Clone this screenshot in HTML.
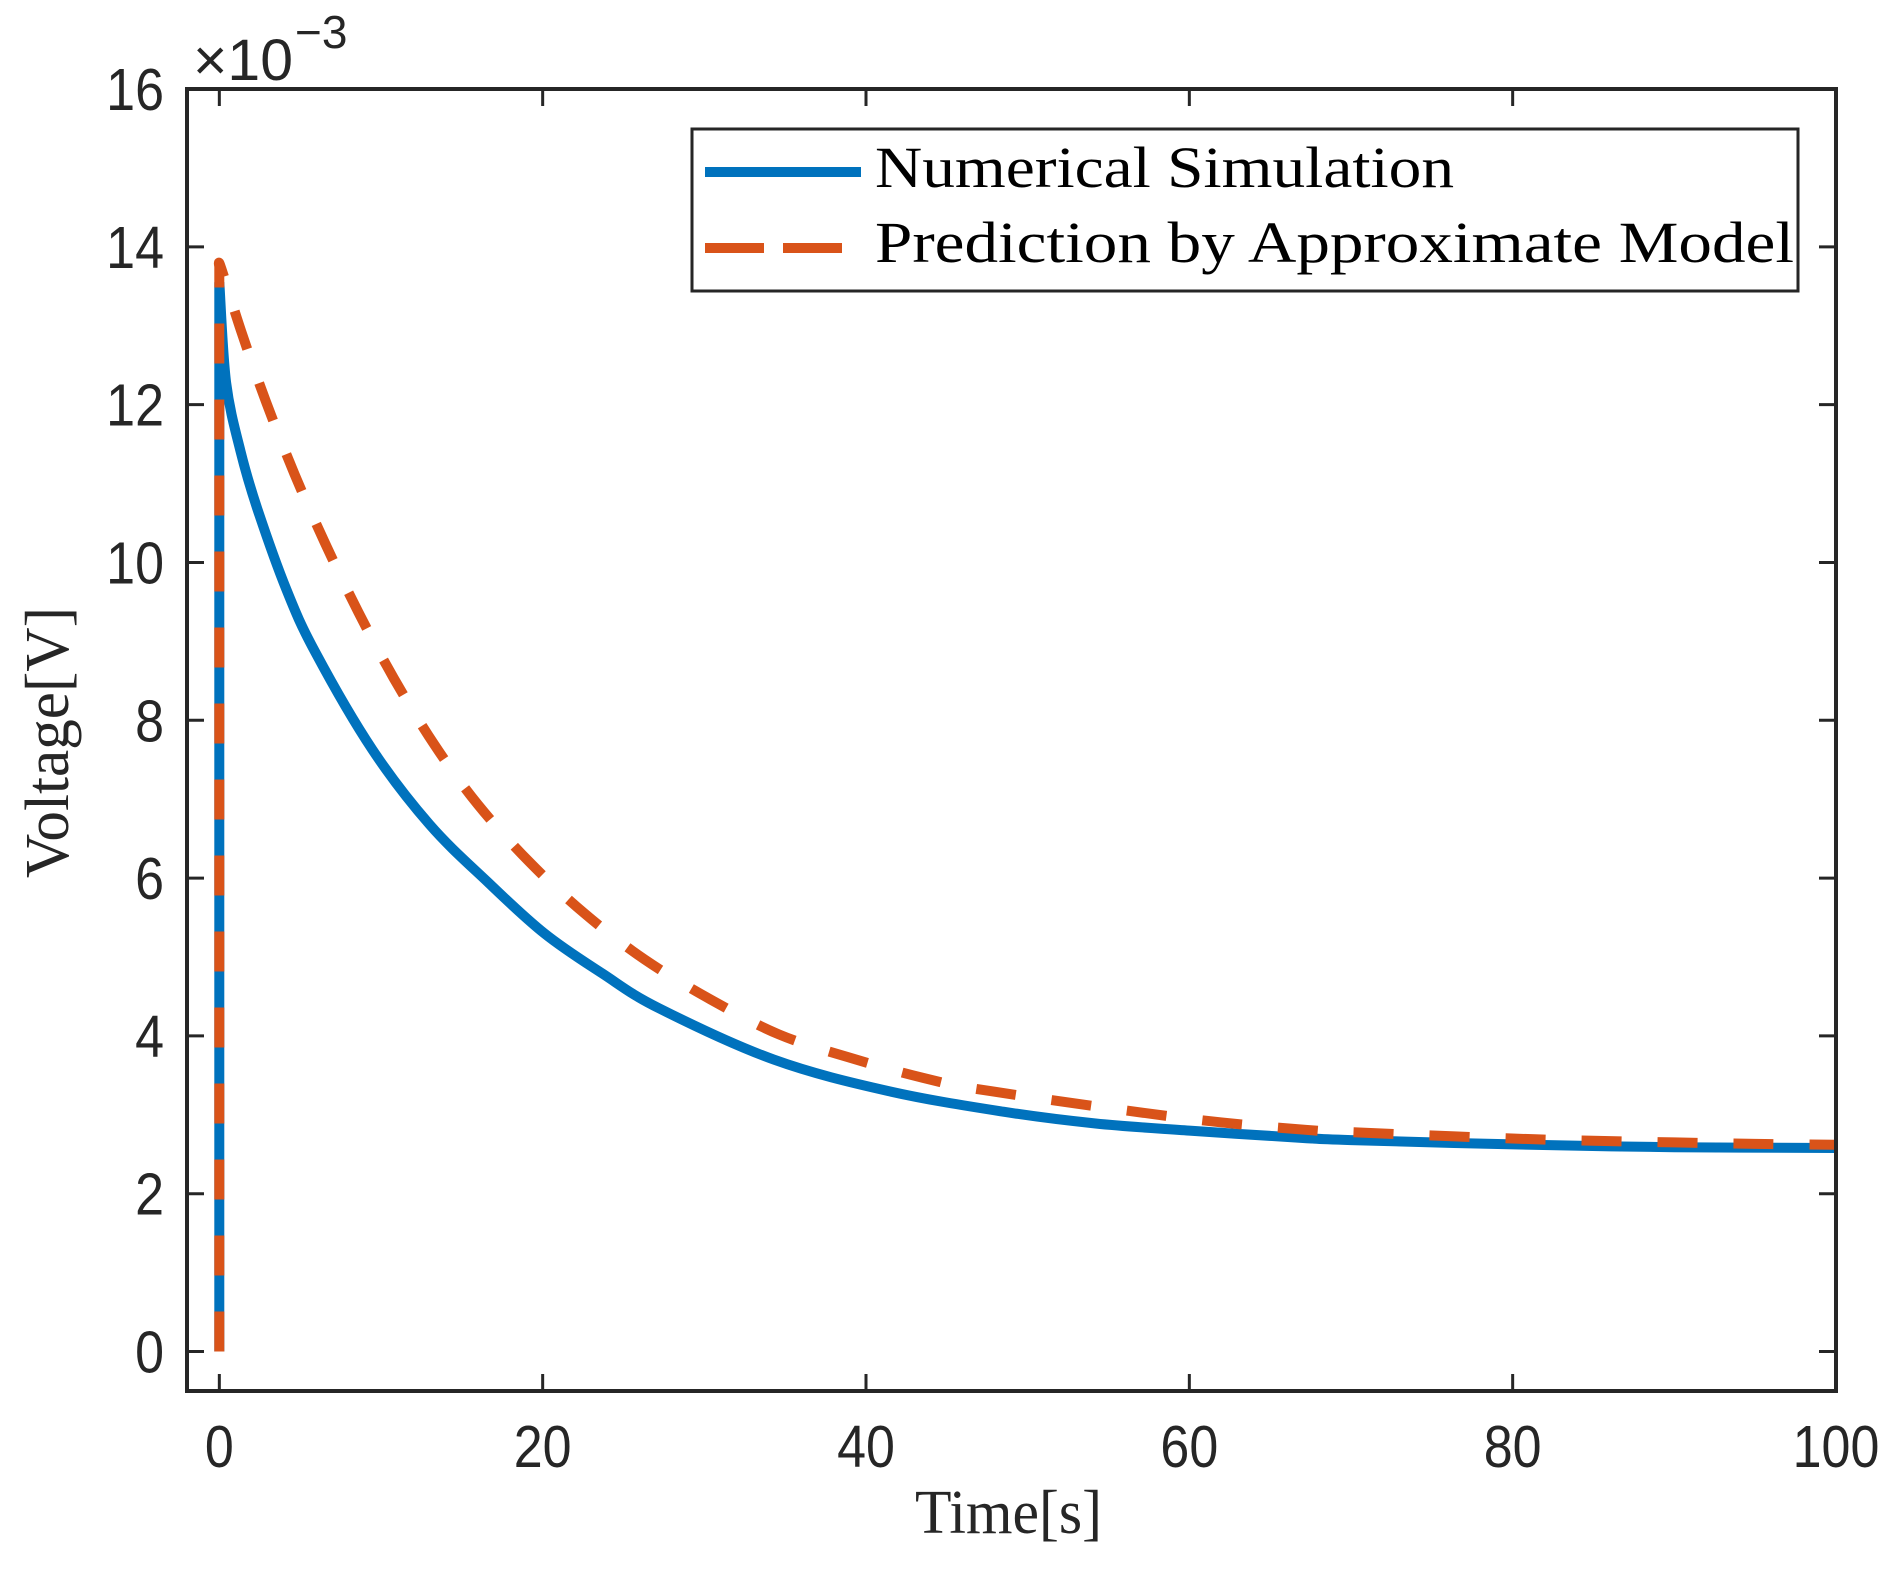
<!DOCTYPE html>
<html>
<head>
<meta charset="utf-8">
<style>
html,body{margin:0;padding:0;background:#fff;}
svg{display:block;}
</style>
</head>
<body>
<svg id="chart" width="1901" height="1574" viewBox="0 0 1901 1574" xmlns="http://www.w3.org/2000/svg">
  <rect x="0" y="0" width="1901" height="1574" fill="#fff"/>
  <rect x="187" y="89" width="1649" height="1302" fill="#fff"/>
  <g id="ticks"></g>
  <g id="series"></g>
  <rect x="187" y="89" width="1649" height="1302" fill="none" stroke="#262626" stroke-width="4"/>
  <g id="xlabels" font-family="Liberation Sans, sans-serif" font-size="52" fill="#262626"></g>
  <g id="ylabels" font-family="Liberation Sans, sans-serif" font-size="52" fill="#262626"></g>
  <g fill="#262626" font-family="Liberation Sans, sans-serif">
    <text x="193" y="80" font-size="58" textLength="100" lengthAdjust="spacingAndGlyphs">×10</text>
    <text x="295" y="48" font-size="46">−3</text>
  </g>
  <text x="915" y="1533" font-family="Liberation Serif, serif" font-size="62" fill="#262626" textLength="187" lengthAdjust="spacingAndGlyphs">Time[s]</text>
  <text transform="translate(68,878) rotate(-90)" x="0" y="0" font-family="Liberation Serif, serif" font-size="62" fill="#262626" textLength="271" lengthAdjust="spacingAndGlyphs">Voltage[V]</text>
  <g>
    <rect x="692" y="129" width="1106" height="162" fill="#fff" stroke="#262626" stroke-width="3"/>
    <g>
      <line x1="705" y1="172" x2="861" y2="172" stroke="#0072BD" stroke-width="10"/>
      <text x="875" y="187" font-family="Liberation Serif, serif" font-size="58" fill="#000" textLength="579" lengthAdjust="spacingAndGlyphs">Numerical Simulation</text>
    </g>
    <g>
      <line x1="705" y1="248" x2="861" y2="248" stroke="#D95319" stroke-width="10" stroke-dasharray="59 19"/>
      <text x="875" y="262" font-family="Liberation Serif, serif" font-size="58" fill="#000" textLength="919" lengthAdjust="spacingAndGlyphs">Prediction by Approximate Model</text>
    </g>
  </g>
</svg>
<script>
// ---- data (voltage in units of 1e-3 V) ----
const simTime  = [0, 0, 0.42, 1.31, 2.35, 4.14, 5.94, 9.46, 13.0, 16.6, 20.1, 23.7, 27.2, 34.3, 41.4, 48.5, 54.2, 60, 66.8, 70, 81.1, 90, 100];
const simVolt  = [0, 13.55, 12.28, 11.41, 10.68, 9.66, 8.86, 7.63, 6.68, 5.95, 5.30, 4.79, 4.35, 3.70, 3.30, 3.04, 2.89, 2.80, 2.71, 2.68, 2.62, 2.59, 2.58];
const predTime = [0, 0, 0.1, 1.35, 2.9, 4.65, 6.55, 8.6, 10.8, 13.3, 16.0, 19.2, 22.6, 26.3, 30.4, 34.6, 38.9, 43.5, 47.7, 60, 67.2, 70, 81.4, 90, 95.6, 100];
const predVolt = [0, 13.74, 13.74, 12.93, 12.03, 11.12, 10.24, 9.37, 8.53, 7.69, 6.93, 6.20, 5.55, 4.97, 4.46, 4.02, 3.73, 3.47, 3.30, 2.95, 2.81, 2.78, 2.69, 2.65, 2.63, 2.62];
const xTicks = [0, 20, 40, 60, 80, 100];
const yTicks = [0, 2, 4, 6, 8, 10, 12, 14, 16];

// ---- axes ----
const X0 = 187, X1 = 1836, Y0 = 1391, Y1 = 89;
const xMin = -2, xMax = 100, yMin = -0.5, yMax = 16;
function xs(t){ return X0 + (t - xMin) / (xMax - xMin) * (X1 - X0); }
function ys(v){ return Y0 - (v - yMin) / (yMax - yMin) * (Y0 - Y1); }
const NS = 'http://www.w3.org/2000/svg';

function pathFrom(ts, vs){
  const p = ts.map((t,i)=>[xs(t), ys(vs[i])]);
  let d = 'M' + p[0][0].toFixed(1) + ',' + p[0][1].toFixed(1);
  d += ' L' + p[1][0].toFixed(1) + ',' + p[1][1].toFixed(1);
  for (let i = 1; i < p.length - 1; i++){
    const a = p[Math.max(i-1,1)], b = p[i], c = p[i+1], e = p[Math.min(i+2, p.length-1)];
    const c1x = b[0] + (c[0]-a[0])/6, c1y = b[1] + (c[1]-a[1])/6;
    const c2x = c[0] - (e[0]-b[0])/6, c2y = c[1] - (e[1]-b[1])/6;
    d += ' C' + c1x.toFixed(1)+','+c1y.toFixed(1)+' '+c2x.toFixed(1)+','+c2y.toFixed(1)+' '+c[0].toFixed(1)+','+c[1].toFixed(1);
  }
  return d;
}

const tickG = document.getElementById('ticks');
const xl = document.getElementById('xlabels');
const yl = document.getElementById('ylabels');
xTicks.forEach(t=>{
  const x = xs(t);
  const l1 = document.createElementNS(NS,'line');
  l1.setAttribute('x1',x); l1.setAttribute('x2',x); l1.setAttribute('y1',Y0); l1.setAttribute('y2',Y0-17);
  l1.setAttribute('stroke','#262626'); l1.setAttribute('stroke-width','3');
  
  
  tickG.appendChild(l1);
  const l2 = document.createElementNS(NS,'line');
  l2.setAttribute('x1',x); l2.setAttribute('x2',x); l2.setAttribute('y1',Y1); l2.setAttribute('y2',Y1+17);
  l2.setAttribute('stroke','#262626'); l2.setAttribute('stroke-width','3');
  
  
  tickG.appendChild(l2);
  const tx = document.createElementNS(NS,'text');
  tx.setAttribute('x',x); tx.setAttribute('y',1467); tx.setAttribute('text-anchor','middle');
  tx.setAttribute('transform','translate(0,1467) scale(1,1.15) translate(0,-1467)');
  tx.textContent = t;
  
  
  xl.appendChild(tx);
});
yTicks.forEach(v=>{
  const y = ys(v);
  const l1 = document.createElementNS(NS,'line');
  l1.setAttribute('x1',X0); l1.setAttribute('x2',X0+17); l1.setAttribute('y1',y); l1.setAttribute('y2',y);
  l1.setAttribute('stroke','#262626'); l1.setAttribute('stroke-width','3');
  
  
  tickG.appendChild(l1);
  const l2 = document.createElementNS(NS,'line');
  l2.setAttribute('x1',X1); l2.setAttribute('x2',X1-17); l2.setAttribute('y1',y); l2.setAttribute('y2',y);
  l2.setAttribute('stroke','#262626'); l2.setAttribute('stroke-width','3');
  
  
  tickG.appendChild(l2);
  const tx = document.createElementNS(NS,'text');
  const by = y + 21;
  tx.setAttribute('x',164); tx.setAttribute('y',by); tx.setAttribute('text-anchor','end');
  tx.setAttribute('transform','translate(0,'+by+') scale(1,1.15) translate(0,'+(-by)+')');
  tx.textContent = v;
  
  
  yl.appendChild(tx);
});

const sg = document.getElementById('series');
const sim = document.createElementNS(NS,'path');
sim.setAttribute('d', pathFrom(simTime, simVolt));
sim.setAttribute('fill','none'); sim.setAttribute('stroke','#0072BD'); sim.setAttribute('stroke-width','10');


sg.appendChild(sim);
const pred = document.createElementNS(NS,'path');
pred.setAttribute('d', pathFrom(predTime, predVolt));
pred.setAttribute('fill','none'); pred.setAttribute('stroke','#D95319'); pred.setAttribute('stroke-width','10');
pred.setAttribute('stroke-dasharray','40 36');


sg.appendChild(pred);
</script>
</body>
</html>
